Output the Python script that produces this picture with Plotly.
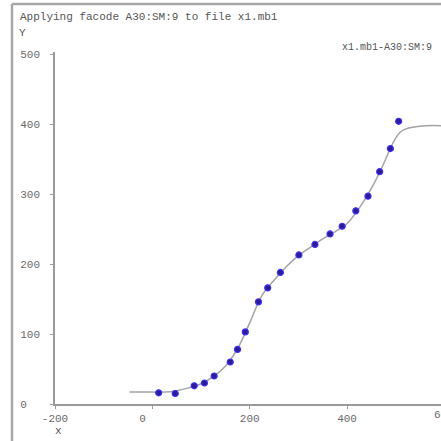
import plotly.graph_objects as go

# Observed data points
point_x = [13, 47, 86, 107, 127, 160, 175, 191, 218, 237, 263, 301, 334, 365, 390, 418, 443, 467, 489, 506]
point_y = [16, 15, 26, 30, 40, 60, 78, 103, 146, 166, 188, 213, 228, 243, 254, 276, 297, 332, 365, 404]

# Smoothed fit curve
fit_x = [-47, 0, 25, 50, 75, 100, 125, 150, 175, 200, 225, 250, 275, 300, 325, 350, 375, 400, 425,
         450, 475, 490, 500, 510, 525, 550, 575, 600, 625]
fit_y = [17, 17, 17, 19, 23, 29, 39, 54, 79, 116, 155, 177, 196, 212, 224, 236, 246, 258, 280,
         308, 343, 367, 380, 389, 394, 397, 398, 397, 394]

x_tickvals = [-200, 0, 200, 400]
x_ticktext = ["-200", "0\u00a0\u00a0\u00a0", "200", "400"]
y_tickvals = [0, 100, 200, 300, 400, 500]
y_ticktext = ["0\u00a0\u00a0", "100", "200", "300", "400", "500"]

title_text = "Applying facode A30:SM:9 to file x1.mb1"
legend_text = "x1.mb1-A30:SM:9"

FONT = "Liberation Mono"
TXT = "#6a6a6a"
AX = "#9a9a9a"

fig = go.Figure()
fig.add_trace(go.Scatter(x=fit_x, y=fit_y, mode="lines", line=dict(color="#a4a4a4", width=1.5,
                         shape="spline"), hoverinfo="skip"))
fig.add_trace(go.Scatter(x=point_x, y=point_y, mode="markers",
                         marker=dict(size=6, color="#2a1c9a", line=dict(color="#3c2cff", width=1.2))))

W, H = 441, 441
L, R, T, B = 55, 0, 52, 37
pw, ph = W - L - R, H - T - B

def px(x):
    return (x - L) / pw

def py(y):
    return (H - B - y) / ph

fig.update_layout(
    width=W, height=H, showlegend=False,
    margin=dict(l=L, r=R, t=T, b=B),
    paper_bgcolor="white", plot_bgcolor="white",
    font=dict(family=FONT, size=11, color=TXT),
    xaxis=dict(range=[-200, 593], showgrid=False, zeroline=False, showline=True, linecolor=AX,
               linewidth=1.5, ticks="outside", ticklen=3, tickcolor=AX, tickvals=x_tickvals,
               ticktext=x_ticktext, tickfont=dict(family=FONT, size=11, color=TXT)),
    yaxis=dict(range=[0, 503], showgrid=False, zeroline=False, showline=True, linecolor=AX,
               linewidth=1.5, ticks="outside", ticklen=3, tickcolor=AX, tickvals=y_tickvals,
               ticktext=y_ticktext, ticklabelstandoff=8,
               tickfont=dict(family=FONT, size=11, color=TXT)),
    shapes=[
        dict(type="line", xref="paper", yref="paper", x0=px(12), x1=px(12), y0=py(441), y1=py(4),
             line=dict(color="#a8a8a8", width=2.5)),
        dict(type="line", xref="paper", yref="paper", x0=px(12), x1=px(441), y0=py(4), y1=py(4),
             line=dict(color="#a8a8a8", width=2.5)),
    ],
    annotations=[
        dict(text=title_text, xref="paper", yref="paper", x=px(18), y=py(17), xanchor="left",
             yanchor="middle", showarrow=False, font=dict(family=FONT, size=11, color="#555")),
        dict(text="Y", xref="paper", yref="paper", x=px(17), y=py(33), xanchor="left",
             yanchor="middle", showarrow=False, font=dict(family=FONT, size=11, color="#555")),
        dict(text=legend_text, xref="paper", yref="paper", x=px(340), y=py(47), xanchor="left",
             yanchor="middle", showarrow=False, font=dict(family=FONT, size=10, color="#555")),
        dict(text="x", xref="paper", yref="paper", x=px(58), y=py(431), xanchor="center",
             yanchor="middle", showarrow=False, font=dict(family=FONT, size=11, color="#555")),
        dict(text="600", xref="paper", yref="paper", x=px(444), y=py(415), xanchor="center",
             yanchor="middle", showarrow=False, font=dict(family=FONT, size=11, color=TXT)),
    ],
)

fig.write_html("out.html", config={"displayModeBar": False},
               post_script="document.body.style.margin='0';document.body.style.overflow='hidden';")
